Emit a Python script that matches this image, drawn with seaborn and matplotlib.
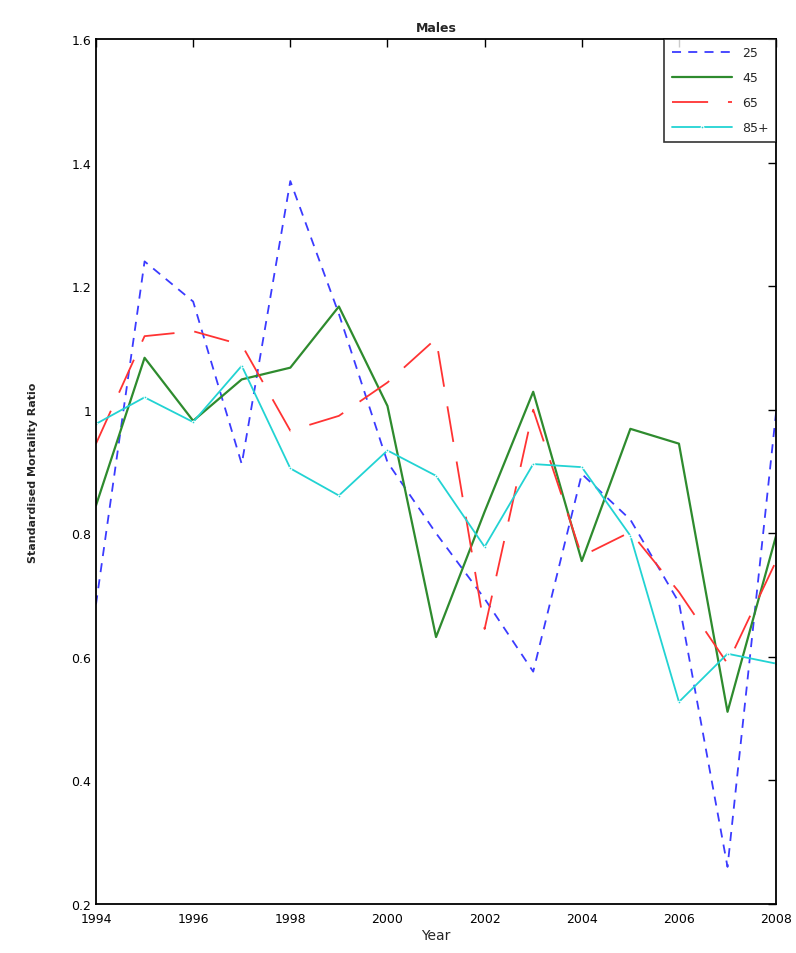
import numpy as np
import pandas as pd
import matplotlib
matplotlib.use("Agg")
import matplotlib.pyplot as plt
import seaborn as sns

years = list(range(1994, 2009))
age_25 = [0.685, 1.24, 1.175, 0.912, 1.37, 1.155, 0.915, 0.80, 0.694, 0.576, 0.896, 0.822, 0.688, 0.26, 0.996]
age_45 = [0.845, 1.084, 0.982, 1.049, 1.068, 1.167, 1.006, 0.632, 0.835, 1.029, 0.755, 0.969, 0.945, 0.511, 0.796]
age_65 = [0.945, 1.119, 1.127, 1.105, 0.966, 0.99, 1.044, 1.115, 0.645, 1.0, 0.763, 0.802, 0.705, 0.589, 0.755]
age_85 = [0.977, 1.02, 0.98, 1.071, 0.905, 0.861, 0.934, 0.893, 0.778, 0.912, 0.907, 0.796, 0.527, 0.605, 0.589]
labels = ["25", "45", "65", "85+"]

sns.set_style("white")
plt.rcParams["font.family"] = ["DejaVu Sans"]

fig = plt.figure(figsize=(7.96, 9.54), dpi=100)
ax = fig.add_axes([0.1206, 0.0514, 0.8544, 0.9067])

sns.lineplot(x=years, y=age_25, ax=ax, color="#3b3bff", lw=1.3,
             label=labels[0]).lines[-1].set_dashes((5, 4))
sns.lineplot(x=years, y=age_45, ax=ax, color="#2e8b2e", lw=1.6, label=labels[1])
sns.lineplot(x=years, y=age_65, ax=ax, color="#ff3333", lw=1.3,
             label=labels[2]).lines[-1].set_dashes((20, 11))
sns.lineplot(x=years, y=age_85, ax=ax, color="#22d3d3", lw=1.3,
             marker=".", markersize=4, label=labels[3])

ax.set_xlim(1994, 2008)
ax.set_ylim(0.2, 1.6)
ax.set_xticks(range(1994, 2009, 2))
yt = [0.2, 0.4, 0.6, 0.8, 1.0, 1.2, 1.4, 1.6]
ax.set_yticks(yt)
ax.set_yticklabels(["0.2", "0.4", "0.6", "0.8", "1", "1.2", "1.4", "1.6"])
ax.tick_params(direction="in", length=6, width=1, top=True, right=True,
               labelsize=9, colors="black")
ax.tick_params(axis="x", pad=6)
for s in ax.spines.values():
    s.set_color("black")
    s.set_linewidth(1.3)

ax.set_title("Males", fontsize=9, fontweight="bold", pad=6)
ax.set_xlabel("Year", fontsize=10, labelpad=2)
ax.set_ylabel("Standardised Mortality Ratio", fontsize=8, fontweight="bold", labelpad=24)

leg = ax.legend(loc="upper right", frameon=True, fancybox=False, fontsize=9,
                handlelength=4.8, labelspacing=0.95, borderpad=0.6,
                borderaxespad=0, edgecolor="black")
leg.get_frame().set_linewidth(1.2)

fig.savefig("out.png", dpi=100)
